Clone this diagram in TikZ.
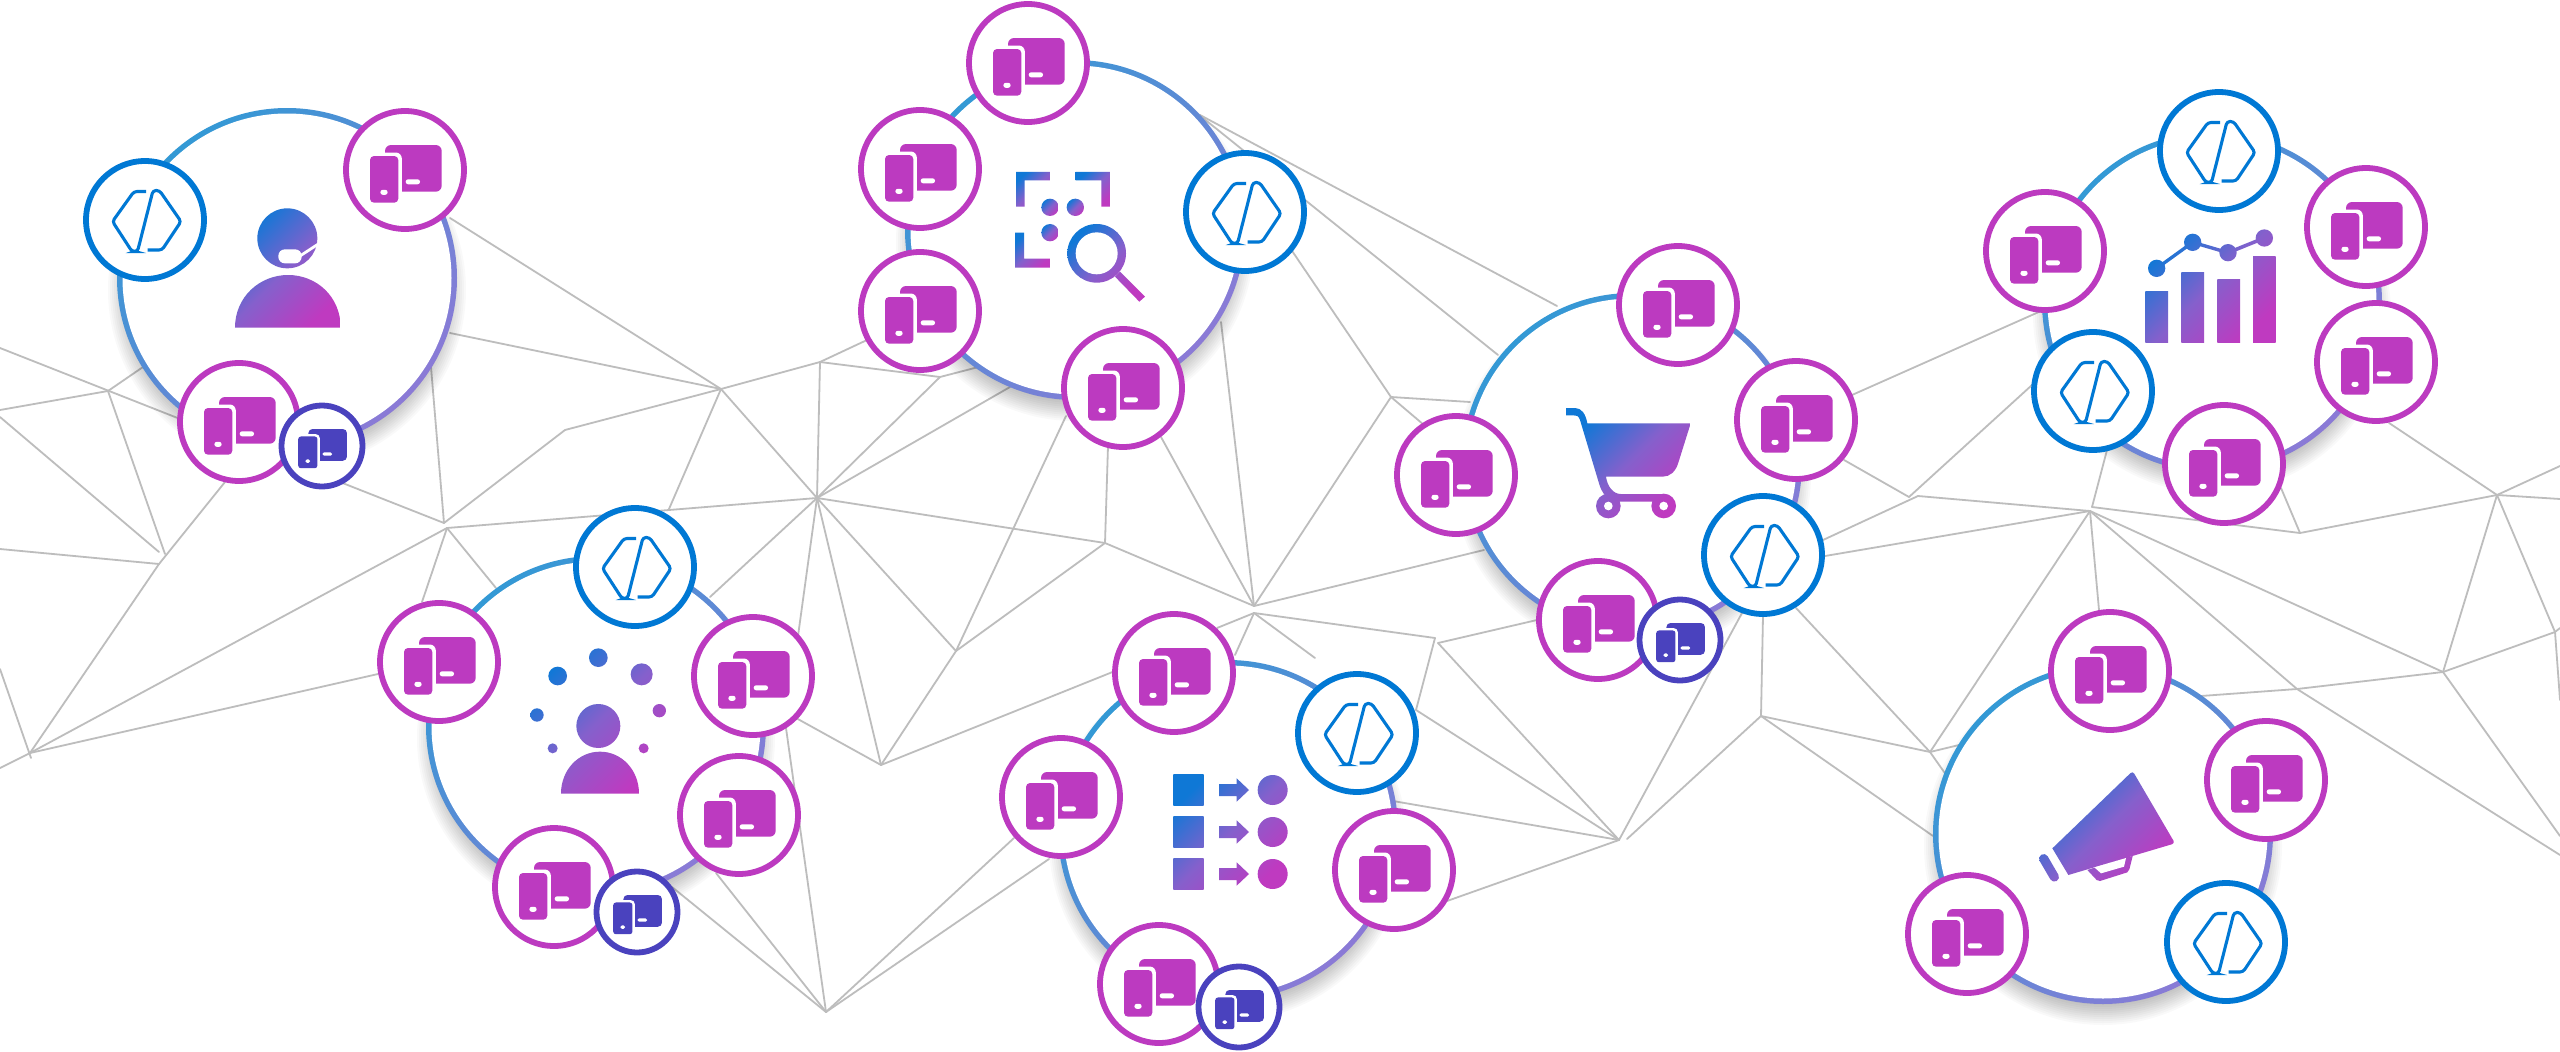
\documentclass[tikz,border=0pt]{standalone}
\definecolor{gA}{HTML}{0F78D6}
\definecolor{gB}{HTML}{BF3AC0}
\definecolor{gM}{HTML}{8560CC}
\definecolor{rA}{HTML}{3399D5}
\definecolor{rB}{HTML}{8B7AD6}
\definecolor{magc}{HTML}{BC3AC0}
\definecolor{indc}{HTML}{4A42BE}
\definecolor{bluec}{HTML}{0078D4}
\definecolor{meshc}{HTML}{BDBDBD}
\tikzset{
 meshline/.style={draw=meshc,line width=1.8pt,line cap=round},
 magnode/.style={circle,draw=magc,fill=white,line width=5.8pt,minimum size=118pt,inner sep=0pt},
 bluenode/.style={circle,draw=bluec,fill=white,line width=5.8pt,minimum size=118pt,inner sep=0pt},
 indnode/.style={circle,draw=indc,fill=white,line width=5.8pt,minimum size=81pt,inner sep=0pt},
 grad/.style={left color=gA,right color=gB,middle color=gM,shading angle=45},
 zoomed/.style={x=0.33333pt,y=-0.33333pt}
}
% gradient piece: clip to a piece, shade the common box
\newcommand\gf[1]{\begin{scope}\clip #1;\shade[grad] \gbox;\end{scope}}
% device glyph
\newcommand\devglyph[4]{%
 \begin{scope}[shift={(#1,#2)},scale=#3]
  \fill[#4,rounded corners=#3*6pt] (-20,-25) rectangle (36.7,21.7);
  \fill[white,rounded corners=#3*6pt] (-38.5,-17.5) rectangle (-3.2,36.2);
  \fill[#4,rounded corners=#3*4pt] (-35,-14) rectangle (-6.7,32.7);
  \fill[white,rounded corners=#3*2.4pt] (-24.6,19.8) rectangle (-17.4,24.8);
  \fill[white,rounded corners=#3*2.4pt] (0.7,9.3) rectangle (15,14.3);
 \end{scope}}
\newcommand\magn[3]{\node[magnode] (#1) at (#2,#3) {};\devglyph{#2}{#3}{1}{magc}}
\newcommand\indn[3]{\node[indnode] (#1) at (#2,#3) {};\devglyph{#2}{#3}{0.68}{indc}}
\newcommand\blun[3]{\node[bluenode] (#1) at (#2,#3) {};
 \draw[bluec,line width=3.1pt,rounded corners=3pt,shift={(#2,#3)}] (1,-28.5) -- (-11,-28.5) -- (-32.5,1.5) -- (-13,31.5) -- (-7.5,31.5) -- (8,-29.5) -- (14.5,-29.5) -- (36,1.5) -- (17,30) -- (2.5,30);}
\newcommand\hub[3]{\coordinate (#1) at (#2,#3);
 \foreach \k in {0,2,...,24} \fill[black,opacity=.024] ([yshift=-12pt]#1) circle (155pt+\k pt);
 \shade[left color=rA,right color=rB,shading angle=45] (#1) circle (170pt);
 \fill[white] (#1) circle (164.5pt);}
\begin{document}
\begin{tikzpicture}[x=1pt,y=-1pt]
\useasboundingbox (0,0) rectangle (2560,1052);
\fill[white] (0,0) rectangle (2560,1052);
\clip (0,0) rectangle (2560,1052);
% mesh vertices
\foreach \n/\cx/\cy in {
 e01/0/348,a/108/391,m1/444/523,m2/447/528,b/143/367,e02/0/410,d/165/554,e03/0/417,d2/159/552,e04/0/549,
 h/159/564,i1/225/482,jj/30/753,e05/0/669,jk/31/758,e06/0/768,t1/378/674,t2/431/367,t3/450/333,P/721/389,
 t4/450/218,t5/565/430,R/817/498,t6/422/602,t7/496/588,t8/669/509,Q/820/362,t9/940/377,t10/867/340,tb/990/364,
 t11/1010/387,t12/710/597,t13/798/636,V/881/765,S/1105/543,U/956/651,t14/796/718,t15/1066/416,t16/1108/446,
 X/1254/606,X2/1254/613,t17/1161/437,t18/1221/322,t19/1115/671,BB/1391/397,t20/1484/550,t21/1200/115,
 t22/1557/306,t23/1203/118,t24/1498/355,CC/1470/402,t25/1424/425,t26/1217/628,t27/1235/655,t28/1315/658,
 Y/1435/638,t29/1416/710,Z/1438/643,AA/1619/840,AB/1627/839,t30/1537/620,t31/1393/801,t32/1447/901,
 c1/1761/716,t33/1742/613,t34/1763/616,dd/1930/752,t35/1933/836,t36/1796/608,t37/1949/779,ee/2090/511,
 ef/2092/507,t38/1959/745,t39/1825/556,t40/1823/540,t41/1918/496,t42/1844/460,t43/1909/497,t44/2032/385,
 t45/1852/395,t46/2041/311,t47/2107/450,t48/2099/610,ff/2300/533,gg/2443/672,hh/2297/689,t49/2201/696,
 t50/2281/488,ii/2497/495,t51/2389/423,e07/2560/499,e08/2560/466,jq/2555/632,e09/2560/700,e10/2560/628,
 e11/2560/836,e12/2560/855,W/826/1012,t52/672/887,t53/716/873,t54/786/728,t55/1014/838,t56/1049/859}
 \coordinate (\n) at (\cx,\cy);
\foreach \p/\q in {
 e01/m1,a/b,e02/a,a/d,e03/d2,e04/h,h/i1,h/jj,e05/jk,e06/jj,jj/t1,jj/m2,m1/t2,t3/P,t4/P,m1/t5,t5/P,m2/R,m2/t6,m2/t7,
 t8/P,P/R,Q/R,P/Q,Q/t9,t9/tb,Q/t10,R/t9,R/t11,R/t12,R/t13,R/V,R/S,R/U,V/t14,V/U,U/S,U/t15,S/t16,S/X,t17/X,t18/X,V/t19,X/BB,X/t20,
 BB/t21,t21/t22,t23/t24,BB/CC,BB/t25,X2/t26,X2/t27,X2/t28,X2/Y,Y/t29,Z/AA,Z/t30,t29/AA,t31/AA,AA/t32,AB/c1,AA/t33,
 c1/t34,c1/dd,c1/t35,dd/t36,dd/t37,dd/ee,dd/t38,ee/t39,t40/t41,t41/ee,t42/t43,t43/t44,t45/t46,ef/t47,ee/t48,ef/ff,ee/gg,ee/hh,
 t49/hh,hh/gg,ff/t50,ff/ii,ii/t51,ii/e07,ii/e08,ii/gg,ii/jq,gg/jq,jq/e09,jq/e10,gg/e11,hh/e12,W/t52,W/t53,W/t54,W/t55,W/t56}
 \draw[meshline] (\p) -- (\q);
% hubs
\hub{hubA}{287}{278}
\hub{hubB}{1075}{230}
\hub{hubC}{596}{726}
\hub{hubD}{1228}{830}
\hub{hubE}{1632}{463}
\hub{hubF}{2212}{302}
\hub{hubG}{2103}{834}
% headset icon
\begin{scope}[shift={(60,90)},zoomed]
 \def\gbox{(525,355) rectangle (842,713)}
 \gf{(682,445) circle (90)}
 \gf{(525,713) .. controls (525,620) and (600,555) .. (684,555) .. controls (770,555) and (842,620) .. (842,713) -- cycle}
 \fill[white,rounded corners=6.5pt] (655,478) rectangle (725,520);
 \draw[white,line width=2.8pt] (720,498) -- (775,462);
\end{scope}
% search icon
\begin{scope}[shift={(850,0)},zoomed]
 \def\gbox{(498,516) rectangle (600,620)}
 \gf{(498,516) -- (600,516) -- (600,541) -- (524,541) -- (524,620) -- (498,620) -- cycle}
 \def\gbox{(677,516) rectangle (780,620)}
 \gf{(677,516) -- (780,516) -- (780,620) -- (754,620) -- (754,541) -- (677,541) -- cycle}
 \def\gbox{(495,698) rectangle (600,803)}
 \gf{(495,698) -- (522,698) -- (522,776) -- (600,776) -- (600,803) -- (495,803) -- cycle}
 \def\gbox{(574,596) rectangle (626,648)}
 \gf{(600,622) circle (26)}
 \def\gbox{(650,596) rectangle (702,648)}
 \gf{(676,622) circle (26)}
 \def\gbox{(574,672) rectangle (626,724)}
 \gf{(600,698) circle (26)}
 \def\gbox{(652,672) rectangle (885,905)}
 \gf{(740,760) circle (88)}
 \gf{(810,815) -- (885,890) -- (868,905) -- (795,830) -- cycle}
 \fill[white] (740,760) circle (63);
\end{scope}
% crowd icon
\begin{scope}[shift={(400,500)},zoomed]
 \def\gbox{(391,445) rectangle (798,881)}
 \gf{(473,528) circle (28)}
 \gf{(595,473) circle (28)}
 \gf{(725,523) circle (33)}
 \gf{(411,645) circle (20)}
 \gf{(778,632) circle (20)}
 \gf{(458,745) circle (15)}
 \gf{(731,745) circle (15)}
 \gf{(595,678) circle (66)}
 \gf{(483,881) .. controls (483,810) and (535,755) .. (600,755) .. controls (665,755) and (717,810) .. (717,881) -- cycle}
\end{scope}
% flow icon
\begin{scope}[shift={(1100,700)},zoomed]
 \def\gbox{(220,224) rectangle (564,567)}
 \foreach \d in {0,126,252} {
  \gf{(220,224+\d) rectangle (311,315+\d)}
  \gf{(357,252+\d) -- (410,252+\d) -- (410,235+\d) -- (447,270+\d) -- (410,305+\d) -- (410,288+\d) -- (357,288+\d) -- cycle}
  \gf{(518,270+\d) circle (45)}
 }
\end{scope}
% cart icon
\begin{scope}[shift={(1500,340)},zoomed]
 \def\gbox{(198,204) rectangle (572,535)}
 \gf{(198,204) -- (225,204) .. controls (245,204) and (257,222) .. (262,250) -- (572,250) -- (535,368) .. controls (527,395) and (510,410) .. (488,410) -- (318,410) .. controls (322,440) and (340,462) .. (362,462) -- (495,462) -- (495,485) -- (355,485) .. controls (325,485) and (305,460) .. (297,430) -- (240,240) .. controls (235,226) and (230,226) .. (220,226) -- (198,226) -- cycle}
 \gf{(325,498) circle (37)}
 \gf{(491,498) circle (37)}
 \fill[white] (325,498) circle (13) (491,498) circle (13);
\end{scope}
% chart icon
\begin{scope}[shift={(2100,200)},zoomed]
 \def\gbox{(136,88) rectangle (527,426)}
 \gf{(136,274) rectangle (204,426)}
 \gf{(244,216) rectangle (312,426)}
 \gf{(352,238) rectangle (420,426)}
 \gf{(459,168) rectangle (527,426)}
 \gf{(170,205) circle (26)}
 \gf{(278,127) circle (26)}
 \gf{(384,158) circle (26)}
 \gf{(493,114) circle (26)}
 \gf{(167,201) -- (275,123) -- (281,131) -- (173,209) -- cycle}
 \gf{(279,122) -- (385,153) -- (383,163) -- (277,132) -- cycle}
 \gf{(382,153) -- (491,109) -- (495,119) -- (386,163) -- cycle}
\end{scope}
% megaphone icon
\begin{scope}[shift={(2000,740)},zoomed]
 \def\gbox{(117,95) rectangle (522,425)}
 \gf{(157,325) [rounded corners=3pt] -- (398,93) -- (525,310) [sharp corners] -- (205,405) -- cycle}
 \gf{(262,390) -- (290,420) -- (300,423) -- (382,397) -- (388,388) -- (398,348) -- (378,352) -- cycle}
 \gf{[rounded corners=4.6pt] (136,337) -- (112,351) -- (158,430) -- (182,416) -- cycle}
 \fill[white] (283,382) -- (303,400) -- (372,380) -- (378,354) -- cycle;
\end{scope}
% small nodes
\magn{a1}{405}{170} \blun{a2}{145}{220} \magn{a3}{239}{422} \indn{a4}{322}{446}
\magn{b1}{1028}{63} \magn{b2}{920}{169} \magn{b3}{920}{311} \magn{b4}{1123}{388} \blun{b5}{1245}{212}
\magn{c1n}{439}{662} \blun{c2}{635}{567} \magn{c3}{753}{676} \magn{c4}{739}{815} \magn{c5}{554}{887} \indn{c6}{637}{912}
\magn{d1}{1174}{673} \magn{d2n}{1061}{797} \blun{d3}{1357}{733} \magn{d4}{1394}{870} \magn{d5}{1159}{984} \indn{d6}{1239}{1007}
\magn{e1}{1678}{305} \magn{e2}{1796}{420} \blun{e3}{1763}{555} \magn{e4}{1456}{475} \magn{e5}{1598}{620} \indn{e6}{1680}{640}
\blun{f1}{2219}{151} \magn{f2}{2045}{251} \magn{f3}{2366}{227} \magn{f4}{2376}{362} \blun{f5}{2093}{391} \magn{f6}{2224}{464}
\magn{g1}{2110}{671} \magn{g2}{2266}{780} \blun{g3}{2226}{942} \magn{g4}{1967}{934}
\end{tikzpicture}
\end{document}
